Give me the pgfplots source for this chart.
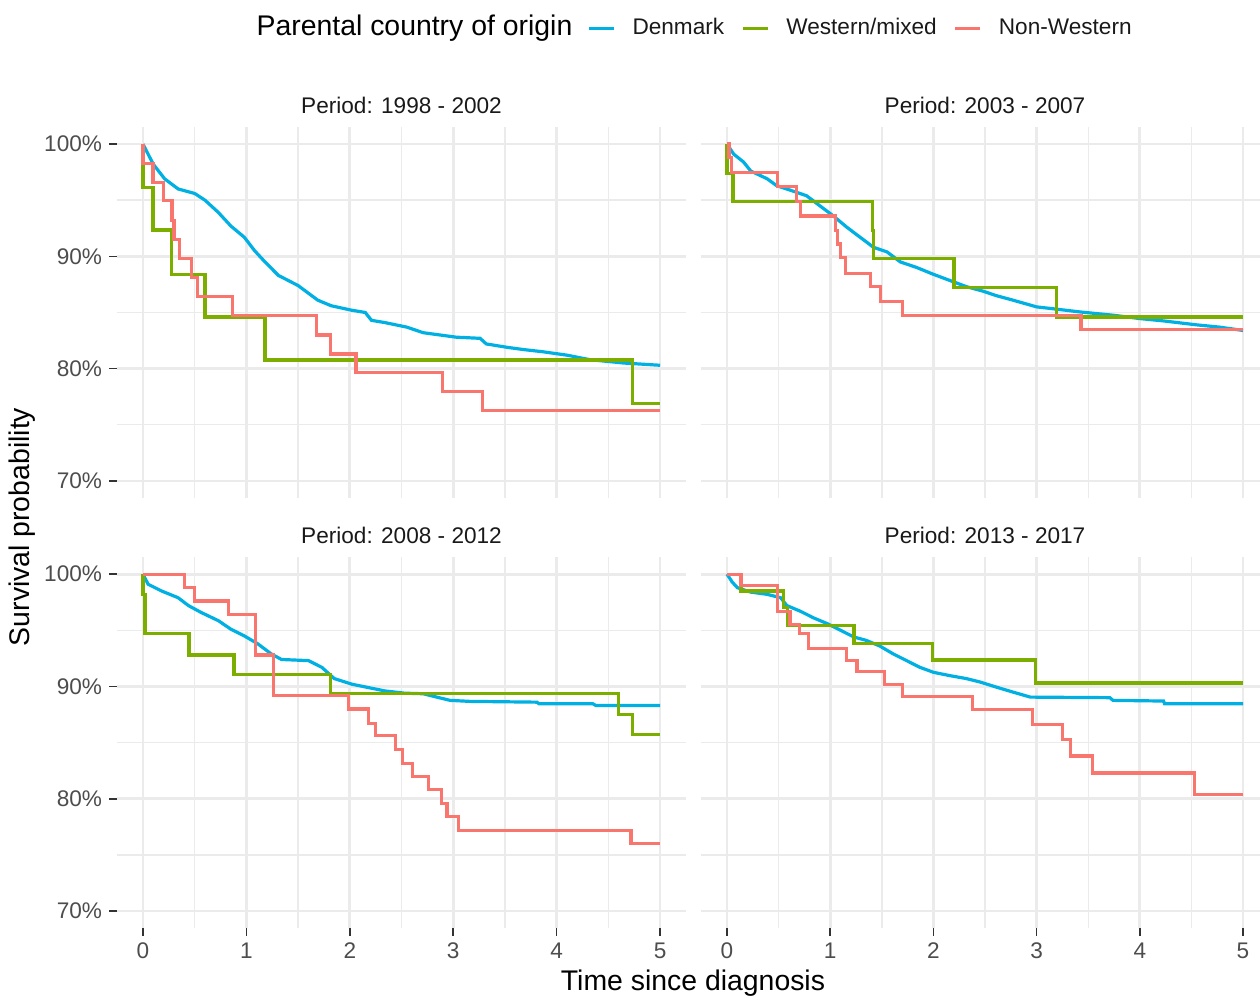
\documentclass[border=0pt]{standalone}
\usepackage{fontspec}
\setmainfont{Liberation Sans}
\usepackage{pgfplots}
\pgfplotsset{compat=1.18}

\definecolor{cDen}{RGB}{0,176,226}
\definecolor{cWes}{RGB}{124,174,0}
\definecolor{cNon}{RGB}{248,118,109}
\definecolor{gridc}{RGB}{235,235,235}
\definecolor{tickc}{RGB}{51,51,51}
\definecolor{labc}{RGB}{77,77,77}

\newcommand{\smallfnt}{\fontsize{11.3}{13.5}\selectfont}
\newcommand{\bigfnt}{\fontsize{14.2}{17}\selectfont}

\pgfplotsset{
  panel/.style={
    scale only axis,
    height=185.3pt,
    xmin=-0.25, xmax=5.25, ymin=68.5, ymax=101.5,
    xtick={0,1,2,3,4,5}, ytick={70,80,90,100},
    minor x tick num=1, minor y tick num=1,
    grid=both,
    major grid style={color=gridc, line width=1.4pt},
    minor grid style={color=gridc, line width=0.7pt},
    axis line style={draw=none},
    tick align=outside, tick pos=left,
    major tick length=4pt, minor tick length=0pt,
    tick style={color=tickc, line width=0.8pt},
    ticklabel style={font=\smallfnt, text=labc},
    title style={at={(0.5,1)}, anchor=center, yshift=5.1pt, font=\smallfnt, text=black!90},
    anchor=south west,
  },
  leftp/.style={width=284.4pt, yticklabels={70\%,80\%,90\%,100\%}},
  rightp/.style={width=283.8pt, yticklabels={}, ytick style={draw=none}},
  topp/.style={xticklabels={}, xtick style={draw=none}},
  botp/.style={xticklabels={0,1,2,3,4,5}},
  den/.style={color=cDen, line width=1.6pt, sharp plot},
  wes/.style={color=cWes, line width=1.6pt, const plot},
  non/.style={color=cNon, line width=1.6pt, const plot},
}

\begin{document}
\begin{tikzpicture}
\path[use as bounding box] (0,0) rectangle (630pt,498pt);
\clip (0,0) rectangle (630pt,498pt);

% 1998 - 2002
\begin{axis}[panel, leftp, topp, at={(58.55pt,249.1pt)},
  title={Period: 1998 - 2002},
  legend columns=3,
  legend style={at={(axis description cs:0.826,1.267)}, anchor=west,
    draw=none, fill=none, font=\smallfnt, inner sep=0pt,
    nodes={inner sep=0pt, text=black!90},
    /tikz/every odd column/.append style={column sep=8.5pt},
    /tikz/every even column/.append style={column sep=8.5pt}},
  legend image code/.code={\draw[#1, sharp plot] (0pt,0pt) -- (12.5pt,0pt);}]
\addplot[den] coordinates {(0,100)(0.1,98.2)(0.21,96.9)(0.34,96.0)(0.5,95.6)(0.6,95.0)(0.73,93.9)(0.85,92.7)(0.98,91.7)(1.08,90.5)(1.18,89.5)(1.31,88.3)(1.5,87.4)(1.69,86.1)(1.82,85.6)(2.02,85.2)(2.15,85.0)(2.21,84.3)(2.34,84.1)(2.55,83.7)(2.71,83.2)(3.03,82.8)(3.26,82.7)(3.32,82.2)(3.52,81.9)(3.68,81.7)(3.87,81.5)(4.1,81.2)(4.32,80.8)(4.65,80.5)(5.0,80.3)};
\addlegendentry{Denmark}
\addplot[wes] coordinates {(0,100)(0,96.15)(0.097,92.35)(0.274,88.4)(0.60,84.6)(1.18,80.77)(4.73,76.9)(5,76.9)};
\addlegendentry{Western/mixed}
\addplot[non] coordinates {(0,100)(0,98.3)(0.097,96.6)(0.20,94.95)(0.28,93.2)(0.30,91.5)(0.355,89.8)(0.468,88.1)(0.53,86.4)(0.865,84.7)(1.68,83.0)(1.81,81.3)(2.06,79.65)(2.90,77.95)(3.28,76.25)(5,76.25)};
\addlegendentry{Non-Western}
\end{axis}

% 2003 - 2007
\begin{axis}[panel, rightp, topp, at={(350.6pt,249.1pt)},
  title={Period: 2003 - 2007}]
\addplot[den] coordinates {(0,100)(0.065,99.1)(0.16,98.4)(0.23,97.6)(0.39,96.9)(0.48,96.3)(0.61,95.9)(0.77,95.4)(0.9,94.5)(1.03,93.6)(1.16,92.6)(1.29,91.7)(1.42,90.8)(1.55,90.4)(1.68,89.5)(1.84,89.0)(2.0,88.4)(2.16,87.85)(2.32,87.3)(2.48,86.9)(2.61,86.5)(2.77,86.1)(3.0,85.5)(3.19,85.3)(3.42,85.05)(3.74,84.76)(4.0,84.46)(4.23,84.25)(4.55,83.9)(4.77,83.7)(5.0,83.4)};
\addplot[wes] coordinates {(0,100)(0,97.4)(0.058,94.9)(1.41,92.3)(1.42,89.8)(2.2,87.2)(3.19,84.6)(5,84.6)};
\addplot[non] coordinates {(0,100)(0.02,98.8)(0.04,97.5)(0.49,96.2)(0.67,94.9)(0.71,93.6)(1.05,92.3)(1.07,91.1)(1.10,89.9)(1.15,88.5)(1.39,87.35)(1.49,86.0)(1.70,84.75)(3.43,83.5)(5,83.5)};
\end{axis}

% 2008 - 2012
\begin{axis}[panel, leftp, botp, at={(58.55pt,34.05pt)},
  title={Period: 2008 - 2012}]
\addplot[den] coordinates {(0,100)(0.05,99.1)(0.18,98.5)(0.34,97.9)(0.44,97.2)(0.56,96.6)(0.73,95.85)(0.85,95.1)(0.98,94.5)(1.11,93.8)(1.24,92.9)(1.34,92.4)(1.6,92.3)(1.73,91.7)(1.85,90.7)(2.02,90.2)(2.18,89.9)(2.34,89.6)(2.53,89.4)(2.71,89.35)(2.84,89.05)(2.97,88.76)(3.16,88.67)(3.81,88.6)(3.83,88.46)(4.35,88.46)(4.38,88.3)(5.0,88.3)};
\addplot[wes] coordinates {(0,100)(0,98.2)(0.02,94.7)(0.445,92.8)(0.88,91.05)(1.81,89.35)(4.6,87.5)(4.73,85.7)(5,85.7)};
\addplot[non] coordinates {(0,100)(0.40,98.8)(0.5,97.6)(0.83,96.4)(1.09,92.8)(1.26,89.2)(1.99,88.0)(2.18,86.7)(2.25,85.6)(2.44,84.4)(2.51,83.15)(2.61,82.0)(2.76,80.8)(2.89,79.6)(2.94,78.4)(3.05,77.15)(4.72,76.0)(5,76.0)};
\end{axis}

% 2013 - 2017
\begin{axis}[panel, rightp, botp, at={(350.6pt,34.05pt)},
  title={Period: 2013 - 2017}]
\addplot[den] coordinates {(0,100)(0.05,99.3)(0.1,98.8)(0.23,98.4)(0.39,98.2)(0.52,97.9)(0.58,97.2)(0.71,96.7)(0.84,96.1)(0.97,95.6)(1.1,95.0)(1.23,94.4)(1.35,94.1)(1.48,93.6)(1.61,92.9)(1.74,92.3)(1.87,91.7)(2.0,91.26)(2.16,90.96)(2.32,90.7)(2.45,90.4)(2.61,89.94)(2.77,89.5)(2.94,89.05)(3.71,89.0)(3.74,88.76)(4.23,88.7)(4.24,88.46)(5.0,88.46)};
\addplot[wes] coordinates {(0,100)(0.135,98.5)(0.55,97.0)(0.59,95.4)(1.23,93.8)(1.99,92.35)(2.99,90.3)(5,90.3)};
\addplot[non] coordinates {(0,100)(0.135,98.96)(0.49,96.65)(0.61,95.5)(0.70,94.7)(0.79,93.4)(1.16,92.3)(1.26,91.35)(1.53,90.16)(1.70,89.1)(2.38,87.96)(2.96,86.6)(3.25,85.27)(3.33,83.8)(3.54,82.3)(4.53,80.4)(5,80.4)};
\end{axis}

\node[font=\bigfnt] at (207.25pt,484pt) {Parental country of origin};
\node[font=\bigfnt, rotate=90] at (11pt,234.5pt) {Survival probability};
\node[font=\bigfnt] at (346.5pt,6.5pt) {Time since diagnosis};
\end{tikzpicture}
\end{document}
